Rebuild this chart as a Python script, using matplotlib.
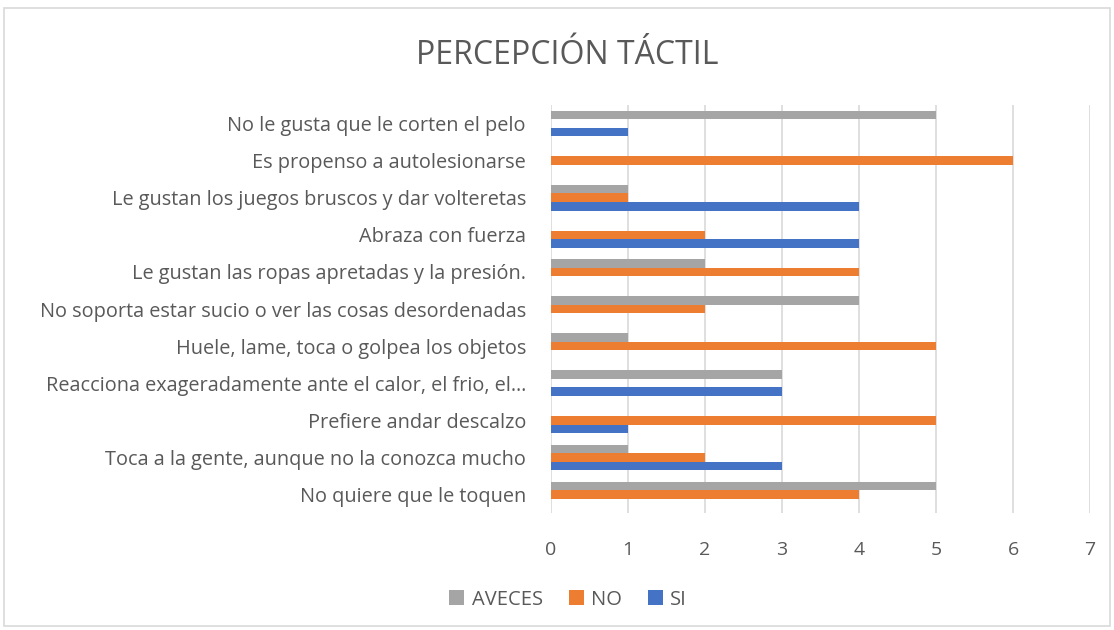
import numpy as np
import matplotlib.pyplot as plt
from matplotlib.patches import Rectangle

plt.rcParams['font.family'] = ['Open Sans', 'DejaVu Sans']

# Categories, bottom to top
categorias = [
    "No quiere que le toquen",
    "Toca a la gente, aunque no la conozca mucho",
    "Prefiere andar descalzo",
    "Reacciona exageradamente ante el calor, el frio, el\u2026",
    "Huele, lame, toca o golpea los objetos",
    "No soporta estar sucio o ver las cosas desordenadas",
    "Le gustan las ropas apretadas y la presi\u00f3n.",
    "Abraza con fuerza",
    "Le gustan los juegos bruscos y dar volteretas",
    "Es propenso a autolesionarse",
    "No le gusta que le corten el pelo",
]
aveces = [5, 1, 0, 3, 1, 4, 2, 0, 1, 0, 5]
no = [4, 2, 5, 0, 5, 2, 4, 2, 1, 6, 0]
si = [0, 3, 1, 3, 0, 0, 0, 4, 4, 0, 1]

c_aveces = '#A5A5A5'
c_no = '#ED7D31'
c_si = '#4472C4'
txt = '#595959'

fig = plt.figure(figsize=(11.14, 6.3), dpi=100)
fig.patches.append(Rectangle((0.004, 0.006), 0.992, 0.981, transform=fig.transFigure,
                             fill=False, edgecolor='#D9D9D9', linewidth=1.2))
ax = fig.add_axes([0.4946, 0.1857, 0.4839, 0.6476])

y = np.arange(len(categorias))
h = 0.23
ax.barh(y + h, aveces, height=h, color=c_aveces, label='AVECES', zorder=3)
ax.barh(y, no, height=h, color=c_no, label='NO', zorder=3)
ax.barh(y - h, si, height=h, color=c_si, label='SI', zorder=3)

ax.set_xlim(0, 7)
ax.set_ylim(-0.5, len(categorias) - 0.5)
ax.set_xticks(range(8))
ax.set_yticks(y)
ax.set_yticklabels(categorias, fontsize=14.3, color=txt)
ax.tick_params(axis='x', labelsize=14, labelcolor=txt, length=0, pad=20)
ax.tick_params(axis='y', length=0, pad=18)
ax.grid(axis='x', color='#D9D9D9', linewidth=1.2, zorder=0)
for s in ax.spines.values():
    s.set_visible(False)

fig.text(0.509, 0.912, 'PERCEPCI\u00d3N T\u00c1CTIL', ha='center', va='center',
         fontsize=23, color=txt)

fig.legend(loc='center', bbox_to_anchor=(0.51, 0.048), ncol=3, frameon=False,
           fontsize=14.5, labelcolor=txt, handlelength=0.75, handleheight=0.75,
           handletextpad=0.35, columnspacing=1.3)

fig.savefig('out.png', dpi=100)
